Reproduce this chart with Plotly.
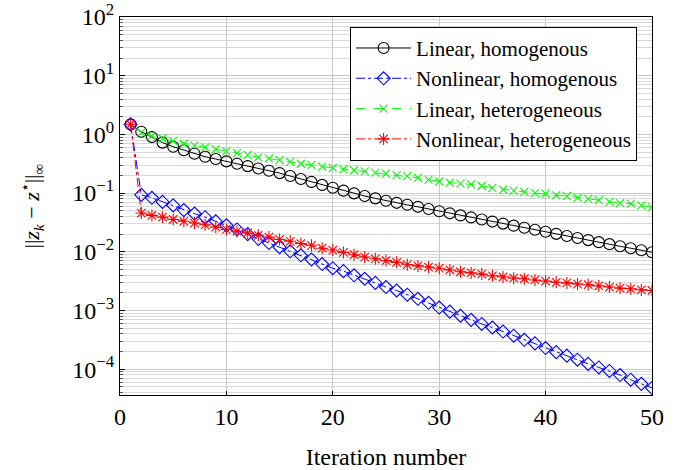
import plotly.graph_objects as go

iterations = list(range(1, 51))

linear_homogenous = [
    1.48, 1.11, 0.90, 0.724, 0.617, 0.537, 0.468, 0.417, 0.380, 0.347,
    0.316, 0.288, 0.263, 0.240, 0.219, 0.195, 0.174, 0.155, 0.138, 0.123,
    0.110, 0.0989, 0.0891, 0.0813, 0.0741, 0.0682, 0.0631, 0.0583, 0.0537, 0.0490,
    0.0452, 0.0417, 0.0385, 0.0355, 0.0327, 0.0302, 0.0279, 0.0257, 0.0237, 0.0219,
    0.0202, 0.0186, 0.0172, 0.0158, 0.0146, 0.0135, 0.0124, 0.0115, 0.0106, 0.0098,
]

nonlinear_homogenous = [
    1.48, 0.0933, 0.0832, 0.0708, 0.0617, 0.0513, 0.0447, 0.0389, 0.0331, 0.0282,
    0.0240, 0.0200, 0.0166, 0.0141, 0.0120, 0.0102, 0.00871, 0.00741, 0.00617, 0.00525,
    0.00468, 0.00398, 0.00347, 0.00295, 0.00251, 0.00219, 0.00186, 0.00158, 0.00135, 0.00112,
    0.000955, 0.000813, 0.000692, 0.000589, 0.000513, 0.000437, 0.000372, 0.000316, 0.000275, 0.000229,
    0.000195, 0.000170, 0.000145, 0.000123, 0.000107, 0.0000933, 0.0000794, 0.0000661, 0.0000562, 0.0000479,
]

linear_heterogeneous = [
    1.48, 1.07, 0.933, 0.851, 0.776, 0.692, 0.646, 0.603, 0.562, 0.513,
    0.479, 0.447, 0.407, 0.389, 0.363, 0.339, 0.316, 0.302, 0.282, 0.269,
    0.257, 0.245, 0.234, 0.224, 0.214, 0.200, 0.195, 0.182, 0.170, 0.158,
    0.151, 0.145, 0.141, 0.132, 0.123, 0.115, 0.110, 0.105, 0.100, 0.0977,
    0.0912, 0.0891, 0.0832, 0.0794, 0.0759, 0.0708, 0.0676, 0.0661, 0.0617, 0.0575,
]

nonlinear_heterogeneous = [
    1.48, 0.0457, 0.0417, 0.0389, 0.0355, 0.0331, 0.0309, 0.0288, 0.0263, 0.0240,
    0.0224, 0.0209, 0.0191, 0.0178, 0.0162, 0.0151, 0.0138, 0.0129, 0.0115, 0.0107,
    0.00977, 0.00891, 0.00813, 0.00759, 0.00708, 0.00661, 0.00603, 0.00575, 0.00550, 0.00525,
    0.00490, 0.00457, 0.00437, 0.00417, 0.00389, 0.00372, 0.00355, 0.00347, 0.00331, 0.00316,
    0.00302, 0.00295, 0.00282, 0.00275, 0.00263, 0.00251, 0.00240, 0.00234, 0.00224, 0.00219,
]

series_names = [
    "Linear, homogenous",
    "Nonlinear, homogenous",
    "Linear, heterogeneous",
    "Nonlinear, heterogeneous",
]

x_tick_vals = [0, 10, 20, 30, 40, 50]
y_tick_vals = [1e-4, 1e-3, 1e-2, 1e-1, 1e0, 1e1, 1e2]
y_tick_text = ["10<sup>−4</sup>", "10<sup>−3</sup>", "10<sup>−2</sup>", "10<sup>−1</sup>",
               "10<sup>0</sup>", "10<sup>1</sup>", "10<sup>2</sup>"]

FONT = "Liberation Serif"

styles = [
    dict(color="black", dash="solid", symbol="circle-open", size=11),
    dict(color="#0000ff", dash="dashdot", symbol="diamond-open", size=10),
    dict(color="#00ff00", dash="dash", symbol="x-thin-open", size=8),
    dict(color="#ff0000", dash="dashdot", symbol="asterisk-open", size=10),
]

data = [linear_homogenous, nonlinear_homogenous, linear_heterogeneous, nonlinear_heterogeneous]

fig = go.Figure()
for name, ys, st in zip(series_names, data, styles):
    fig.add_trace(go.Scatter(
        x=iterations, y=ys, name=name, mode="lines+markers",
        line=dict(color=st["color"], dash=st["dash"], width=1),
        marker=dict(symbol=st["symbol"], size=st["size"], color=st["color"],
                    line=dict(color=st["color"], width=1.1)),
    ))

fig.update_layout(
    width=686, height=470,
    margin=dict(l=120, r=34, t=17, b=75),
    paper_bgcolor="white", plot_bgcolor="white",
    font=dict(family=FONT, size=24, color="black"),
    showlegend=True,
    legend=dict(
        x=0.972, y=0.974, xanchor="right", yanchor="top",
        bgcolor="white", bordercolor="black", borderwidth=1,
        font=dict(family=FONT, size=21, color="black"),
        tracegroupgap=0, itemwidth=55,
    ),
)

fig.update_xaxes(
    range=[0, 50], tickvals=x_tick_vals, automargin=False,
    showline=True, linecolor="black", linewidth=1, mirror=True,
    ticks="inside", ticklen=4, tickcolor="black",
    showgrid=True, gridcolor="#c8c8c8", gridwidth=1,
    zeroline=False,
    tickfont=dict(family=FONT, size=24),
    title=dict(text="Iteration number", font=dict(family=FONT, size=24), standoff=22),
)

fig.update_yaxes(
    type="log", range=[-4.44, 2], automargin=False,
    tickvals=y_tick_vals, ticktext=y_tick_text,
    showline=True, linecolor="black", linewidth=1, mirror=True,
    ticks="inside", ticklen=5, tickcolor="black",
    showgrid=True, gridcolor="#c8c8c8", gridwidth=1,
    minor=dict(dtick="D1", showgrid=True, gridcolor="#d8d8d8", gridwidth=1,
               ticks="inside", ticklen=3, tickcolor="#555555"),
    zeroline=False,
    tickfont=dict(family=FONT, size=24),
    title=dict(text="||<i>z</i><sub><i>k</i></sub> − <i>z</i><sup>⋆</sup>||<sub>∞</sub>",
               font=dict(family=FONT, size=22), standoff=26),
)

fig.write_html("out.html")
